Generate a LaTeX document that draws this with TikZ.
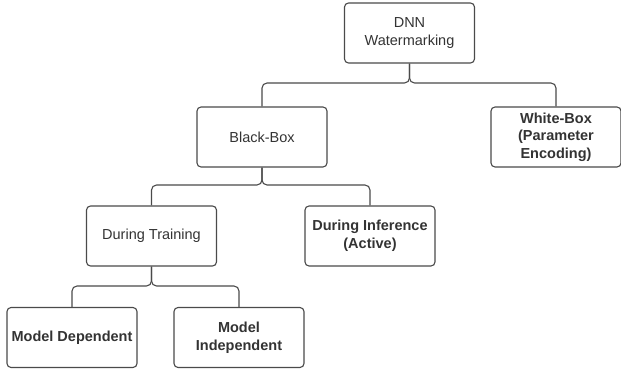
\documentclass[tikz,border=0pt]{standalone}
\usepackage{fontspec}
\setmainfont{Liberation Sans}
\definecolor{linec}{HTML}{4A4A4A}
\definecolor{textc}{HTML}{333333}
\begin{document}
\begin{tikzpicture}[x=1pt,y=-1pt,
  box/.style={draw=linec, line width=1.1pt, rounded corners=4pt, minimum width=130pt, minimum height=60pt, align=center, text=textc, font=\fontsize{14.5}{17.5}\selectfont, inner sep=2pt},
  boldbox/.style={box, font=\fontsize{14.5}{17.5}\selectfont\bfseries},
  conn/.style={draw=linec, line width=1.1pt, rounded corners=5pt}]
\useasboundingbox (0,0) rectangle (621,374);
\node[box] (dnn) at (409.5,33) {DNN\\Watermarking};
\node[box] (bb) at (262,137) {Black-Box};
\node[boldbox] (wb) at (556,137) {White-Box\\(Parameter\\Encoding)};
\node[box] (dt) at (151.5,236) {During Training};
\node[boldbox] (di) at (370,236) {During Inference\\(Active)};
\node[boldbox] (md) at (72,337.5) {Model Dependent};
\node[boldbox] (mi) at (239,337.5) {Model\\Independent};
\coordinate (j1) at (0,83);
\coordinate (j2) at (0,185);
\coordinate (j3) at (0,286);
\draw[conn] (dnn.south) -- (dnn.south |- j1) -- (bb.north |- j1) -- (bb.north);
\draw[conn] (dnn.south) -- (dnn.south |- j1) -- (wb.north |- j1) -- (wb.north);
\draw[conn] (bb.south) -- (bb.south |- j2) -- (dt.north |- j2) -- (dt.north);
\draw[conn] (bb.south) -- (bb.south |- j2) -- (di.north |- j2) -- (di.north);
\draw[conn] (dt.south) -- (dt.south |- j3) -- (md.north |- j3) -- (md.north);
\draw[conn] (dt.south) -- (dt.south |- j3) -- (mi.north |- j3) -- (mi.north);
\end{tikzpicture}
\end{document}
